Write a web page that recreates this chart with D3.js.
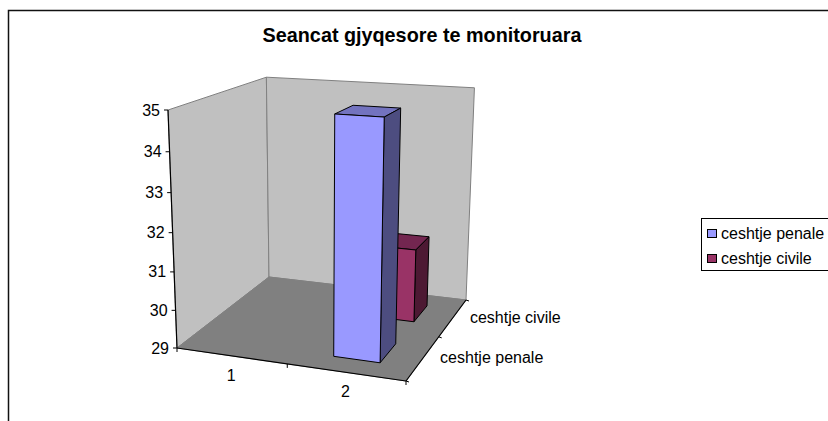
<!DOCTYPE html>
<html>
<head>
<meta charset="utf-8">
<script src="https://cdn.jsdelivr.net/npm/d3@7"></script>
<style>
html, body { margin: 0; padding: 0; background: #fff; }
svg { display: block; }
text { font-family: "Liberation Sans", Arial, sans-serif; fill: #000; }
</style>
</head>
<body>
<svg id="chart"></svg>
<script>
const categories = ["1", "2"];
const seriesNames = ["ceshtje penale", "ceshtje civile"];
const penale = [null, 35];
const civile = [null, 31];
const yTicks = [29, 30, 31, 32, 33, 34, 35];

const colors = [
    { front: "#9999ff", side: "#4d4d80", top: "#7373bf" },
    { front: "#993366", side: "#4d1933", top: "#732650" }
];

const labelSize = 16;

const svg = d3.select("#chart").attr("width", 828).attr("height", 421);

// box as Excel drew it: floor corners (front left, front right, back right, back left)
// and the top of the value axis
const floorCorners = [[177, 348], [406, 381], [466, 300], [269, 277]];
const axisTop = [168, 110];
const heightPersp = -0.06;

// one perspective for the whole box, floor homography plus a height term
function makeProjection(q, top, k) {
    const [[x0, y0], [x1, y1], [x2, y2], [x3, y3]] = q;
    const dx1 = x1 - x2, dx2 = x3 - x2, sx = x0 - x1 + x2 - x3;
    const dy1 = y1 - y2, dy2 = y3 - y2, sy = y0 - y1 + y2 - y3;
    const det = dx1 * dy2 - dx2 * dy1;
    const g = (sx * dy2 - dx2 * sy) / det;
    const h = (dx1 * sy - sx * dy1) / det;
    const a = x1 - x0 + g * x1, b = x3 - x0 + h * x3;
    const d = y1 - y0 + g * y1, e = y3 - y0 + h * y3;
    const cx = top[0] * (1 + k) - x0, cy = top[1] * (1 + k) - y0;
    return (u, v, t) => {
        const w = 1 + g * u + h * v + k * t;
        return [
            (x0 + a * u + b * v + cx * t) / w,
            (y0 + d * u + e * v + cy * t) / w + 3 * v * t // back top edge sits a bit lower
        ];
    };
}

const boxMap = makeProjection(floorCorners, axisTop, heightPersp);

const x = d3.scaleLinear().domain([0, categories.length]).range([0, 1]);
const z = d3.scaleLinear().domain([0, seriesNames.length]).range([0, 1]);
const y = d3.scaleLinear().domain([29, 35]).range([0, 1]);

const project = (cx, value, cz) => boxMap(x(cx), z(cz), y(value));

const line = d3.line();

function face(points, fill, stroke, width) {
    svg.append("path")
        .attr("d", line(points) + "Z")
        .attr("fill", fill)
        .attr("stroke", stroke)
        .attr("stroke-width", width)
        .attr("stroke-linejoin", "round");
}

// chart frame, only top and left show in the picture
svg.append("path")
    .attr("d", "M8.5,421V10.5H828")
    .attr("fill", "none")
    .attr("stroke", "#111")
    .attr("stroke-width", 1.5);

// title
svg.append("text")
    .attr("x", 422)
    .attr("y", 42)
    .attr("text-anchor", "middle")
    .attr("font-size", 19.8)
    .attr("font-weight", "bold")
    .text("Seancat gjyqesore te monitoruara");

// walls and floor
face([project(0, 29, 0), project(0, 35, 0), project(0, 35, 2), project(0, 29, 2)], "#c0c0c0", "#808080", 1);
face([project(0, 29, 2), project(0, 35, 2), project(2, 35, 2), project(2, 29, 2)], "#c0c0c0", "#808080", 1);
face([project(0, 29, 0), project(2, 29, 0), project(2, 29, 2), project(0, 29, 2)], "#808080", "#808080", 1);

// bars, back row first
const barLeft = 0.30, barRight = 0.70;
const rows = [penale, civile];

[1, 0].forEach(row => {
    rows[row].forEach((v, i) => {
        if (v === null) return;
        const x0 = i + barLeft, x1 = i + barRight;
        const z0 = row + 0.28, z1 = row + 0.72;
        const c = colors[row];
        face([project(x0, v, z0), project(x1, v, z0), project(x1, v, z1), project(x0, v, z1)], c.top, "#000", 1);
        face([project(x1, 29, z0), project(x1, v, z0), project(x1, v, z1), project(x1, 29, z1)], c.side, "#000", 1);
        face([project(x0, 29, z0), project(x1, 29, z0), project(x1, v, z0), project(x0, v, z0)], c.front, "#000", 1);
    });
});

// axes
const axisLines = [
    [project(0, 29, 0), project(0, 35, 0)],
    [project(0, 29, 0), project(2, 29, 0)],
    [project(2, 29, 0), project(2, 29, 2)]
];
axisLines.forEach(d => {
    svg.append("path").attr("d", line(d)).attr("fill", "none").attr("stroke", "#000").attr("stroke-width", 1.2);
});

yTicks.forEach(t => {
    const p = project(0, t, 0);
    svg.append("path").attr("d", line([p, [p[0] - 4, p[1]]])).attr("stroke", "#000");
    svg.append("text")
        .attr("x", p[0] - 8)
        .attr("y", p[1] + 5.5)
        .attr("text-anchor", "end")
        .attr("font-size", labelSize)
        .text(t);
});

d3.range(categories.length + 1).forEach(i => {
    const p = project(i, 29, 0);
    svg.append("path").attr("d", line([p, [p[0], p[1] + 4]])).attr("stroke", "#000");
});
categories.forEach((c, i) => {
    const p = project(i + 0.5, 29, 0);
    svg.append("text")
        .attr("x", p[0])
        .attr("y", p[1] + 25)
        .attr("text-anchor", "middle")
        .attr("font-size", labelSize)
        .text(c);
});

d3.range(seriesNames.length + 1).forEach(i => {
    const p = project(2, 29, i);
    svg.append("path").attr("d", line([p, [p[0] + 3, p[1] + 1]])).attr("stroke", "#000");
});
seriesNames.forEach((s, i) => {
    const p = project(2, 29, i + 0.5);
    svg.append("text")
        .attr("x", p[0] + 17)
        .attr("y", p[1] + 5.5)
        .attr("font-size", labelSize)
        .text(s);
});

// legend, runs off the right side of the picture
svg.append("rect")
    .attr("x", 701.5)
    .attr("y", 218.5)
    .attr("width", 140)
    .attr("height", 52)
    .attr("fill", "#fff")
    .attr("stroke", "#000");

seriesNames.forEach((s, i) => {
    const ly = 229.5 + i * 25;
    svg.append("rect")
        .attr("x", 707.5)
        .attr("y", ly)
        .attr("width", 9)
        .attr("height", 8)
        .attr("fill", colors[i].front)
        .attr("stroke", "#000");
    svg.append("text")
        .attr("x", 721)
        .attr("y", ly + 9)
        .attr("font-size", labelSize)
        .text(s);
});
</script>
</body>
</html>
